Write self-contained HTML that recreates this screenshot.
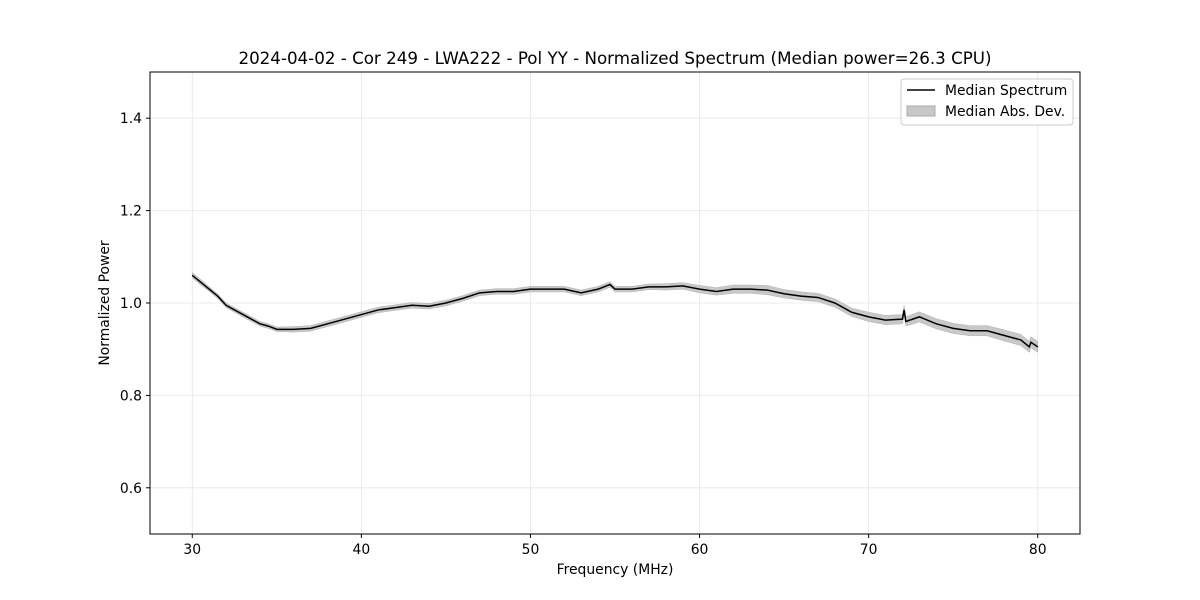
<!DOCTYPE html>
<html><head><meta charset="utf-8"><style>
html,body{margin:0;padding:0;background:#fff;}
svg{display:block;font-family:"DejaVu Sans","Liberation Sans",sans-serif;}
</style></head><body>
<svg id="chart" width="1200" height="600" xmlns="http://www.w3.org/2000/svg">
<rect width="1200" height="600" fill="#fff"/>
<text x="615" y="64" text-anchor="middle" font-size="16.7">2024-04-02 - Cor 249 - LWA222 - Pol YY - Normalized Spectrum (Median power=26.3 CPU)</text>
<g id="grid"></g>
<g id="band"></g>
<g id="line"></g>
<rect x="150" y="72" width="930" height="462" fill="none" stroke="#000" stroke-width="1"/>
<g id="ticks"></g>
<text x="615" y="574" text-anchor="middle" font-size="13.9">Frequency (MHz)</text>
<text x="109" y="303" text-anchor="middle" font-size="13.9" transform="rotate(-90 109 303)">Normalized Power</text>
<g>
<rect x="901" y="79" width="172" height="46" rx="3" fill="#fff" fill-opacity="0.8" stroke="#ccc"/>
<line x1="907" y1="90" x2="935" y2="90" stroke="#000" stroke-width="1.5"/>
<text x="945" y="95" font-size="13.9">Median Spectrum</text>
<rect x="907" y="106" width="28" height="10" fill="#c8c8c8" stroke="#aaa"/>
<text x="945" y="116" font-size="13.9">Median Abs. Dev.</text>
</g>
</svg>
<script>
const freqs=[30,30.5,31,31.5,32,32.5,33,33.5,34,34.5,35,36,37,38,39,40,41,42,43,44,45,46,47,48,49,50,51,52,53,54,54.7,55,56,57,58,59,60,61,62,63,64,65,66,67,68,69,70,71,72,72.1,72.2,73,74,75,76,77,78,79,79.5,79.6,80];
const power=[1.06,1.045,1.03,1.015,0.995,0.985,0.975,0.965,0.955,0.95,0.943,0.943,0.945,0.955,0.965,0.975,0.985,0.99,0.995,0.993,1.0,1.01,1.022,1.025,1.025,1.03,1.03,1.03,1.022,1.03,1.04,1.03,1.03,1.035,1.035,1.037,1.03,1.025,1.03,1.03,1.028,1.02,1.015,1.012,1.0,0.98,0.97,0.963,0.965,0.985,0.96,0.97,0.955,0.945,0.94,0.94,0.93,0.92,0.905,0.915,0.905];
const mad=[0.006,0.006,0.005,0.005,0.005,0.005,0.005,0.005,0.005,0.005,0.005,0.006,0.006,0.006,0.006,0.006,0.006,0.006,0.006,0.006,0.006,0.006,0.006,0.006,0.006,0.006,0.006,0.006,0.006,0.006,0.006,0.006,0.006,0.006,0.007,0.007,0.008,0.008,0.009,0.009,0.01,0.009,0.009,0.009,0.009,0.009,0.01,0.01,0.01,0.01,0.01,0.011,0.011,0.011,0.011,0.011,0.012,0.012,0.012,0.012,0.012];
const xTicks=[30,40,50,60,70,80];
const yTicks=[0.6,0.8,1.0,1.2,1.4];
const NS="http://www.w3.org/2000/svg";
const X0=150,X1=1080,Y0=72,Y1=534,xmin=27.5,xmax=82.5,ymin=0.5,ymax=1.5;
const sx=v=>X0+(v-xmin)/(xmax-xmin)*(X1-X0);
const sy=v=>Y1-(v-ymin)/(ymax-ymin)*(Y1-Y0);
function mk(tag,attrs,parent){const e=document.createElementNS(NS,tag);for(const k in attrs)e.setAttribute(k,attrs[k]);parent.appendChild(e);return e;}
const grid=document.getElementById('grid'),ticks=document.getElementById('ticks');
xTicks.forEach(t=>{const x=sx(t);
 const g=mk('line',{x1:x,x2:x,y1:Y0,y2:Y1,stroke:'#e6e6e6','stroke-width':0.8},grid);
 
 
 const tk=mk('line',{x1:x,x2:x,y1:Y1,y2:Y1+4,stroke:'#000'},ticks);
 
 
 const tx=mk('text',{x:x,y:Y1+20,'text-anchor':'middle','font-size':13.9},ticks);tx.textContent=t;
 
 });
yTicks.forEach(t=>{const y=sy(t);
 const g=mk('line',{x1:X0,x2:X1,y1:y,y2:y,stroke:'#e6e6e6','stroke-width':0.8},grid);
 
 
 const tk=mk('line',{x1:X0-4,x2:X0,y1:y,y2:y,stroke:'#000'},ticks);
 
 
 const tx=mk('text',{x:X0-8,y:y+5,'text-anchor':'end','font-size':13.9},ticks);tx.textContent=t.toFixed(1);
 
 });
let up=freqs.map((f,i)=>sx(f)+','+sy(power[i]+mad[i]));
let dn=freqs.map((f,i)=>sx(f)+','+sy(power[i]-mad[i])).reverse();
const band=mk('polygon',{points:up.concat(dn).join(' '),fill:'#c8c8c8',stroke:'#b0b0b0','stroke-width':0.5},document.getElementById('band'));


const pl=mk('polyline',{points:freqs.map((f,i)=>sx(f)+','+sy(power[i])).join(' '),fill:'none',stroke:'#000','stroke-width':1.5},document.getElementById('line'));


</script>
</body></html>
